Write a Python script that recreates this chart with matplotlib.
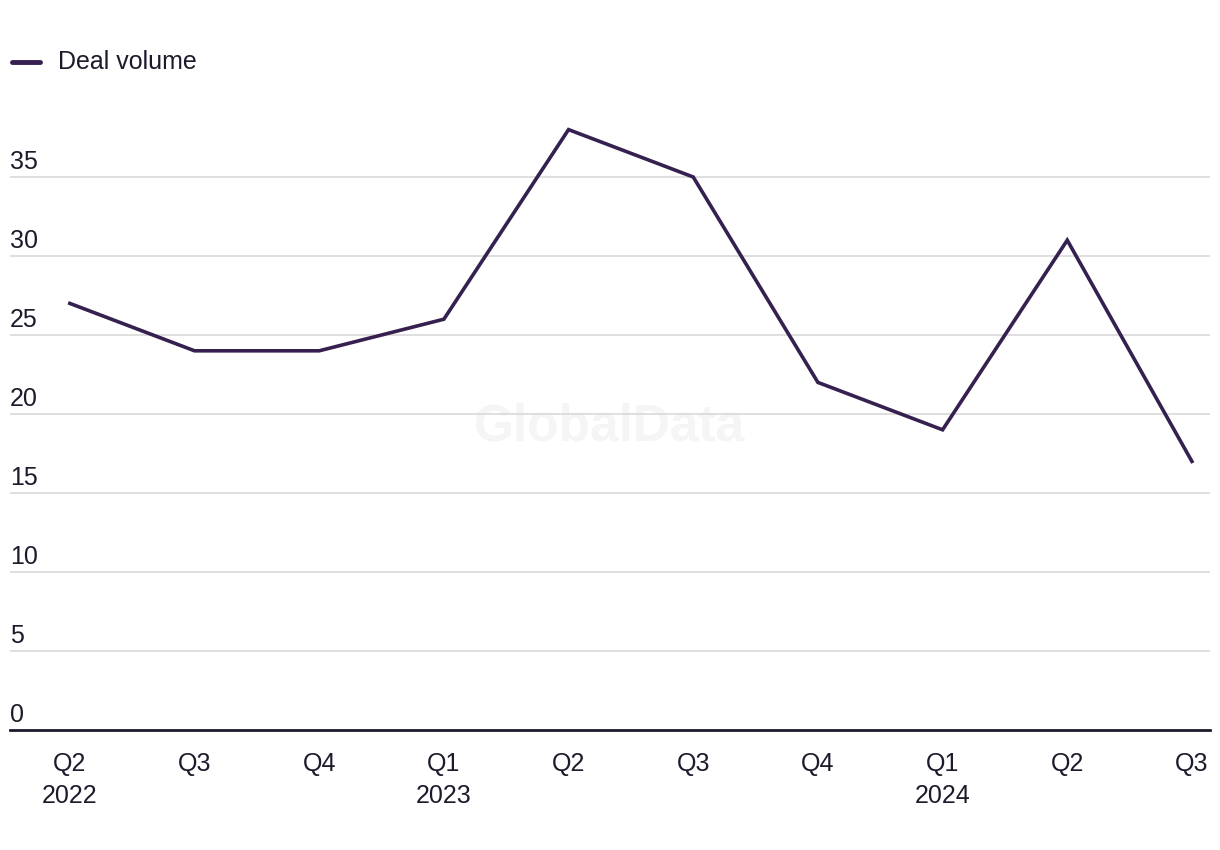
import matplotlib
matplotlib.use("Agg")
import matplotlib.pyplot as plt
import matplotlib.transforms as mtransforms

plt.rcParams['font.family'] = ['Liberation Sans', 'DejaVu Sans']

quarters = ["Q2\n2022", "Q3", "Q4", "Q1\n2023", "Q2", "Q3", "Q4", "Q1\n2024", "Q2", "Q3"]
deal_volume = [27, 24, 24, 26, 38, 35, 22, 19, 31, 17]
y_ticks = [0, 5, 10, 15, 20, 25, 30, 35]

line_color = '#35204f'
text_color = '#1b1b2b'

fig = plt.figure(figsize=(12.2, 8.5), dpi=100)
ax = fig.add_axes([10 / 1220, 1 - 730 / 850, 1200 / 1220, 632 / 850])

x = list(range(len(quarters)))
ax.plot(x, deal_volume, color=line_color, linewidth=2.6, solid_joinstyle='miter', zorder=3)

ax.set_xlim(-0.48, 9.145)
ax.set_ylim(0, 40)

# gridlines with labels sitting just above them
trans = mtransforms.blended_transform_factory(ax.transAxes, ax.transData)
for t in y_ticks:
    if t > 0:
        ax.axhline(t, color='#d9d9d9', linewidth=1.2, zorder=1)
    ax.annotate(str(t), xy=(0, t), xycoords=trans, xytext=(0, 2),
                textcoords='offset points', ha='left', va='bottom',
                fontsize=18, color=text_color)

ax.set_yticks([])
ax.set_xticks(x)
ax.set_xticklabels(quarters, fontsize=18, color=text_color, linespacing=1.4)
ax.tick_params(axis='x', length=0, pad=16)

for s in ['top', 'right', 'left']:
    ax.spines[s].set_visible(False)
ax.spines['bottom'].set_color(text_color)
ax.spines['bottom'].set_linewidth(2)

# watermark
ax.text(0.5, 0.48, "GlobalData", transform=ax.transAxes, ha='center', va='center',
        fontsize=37, fontweight='bold', color='#f5f5f5', zorder=0)

# legend
fig.add_artist(plt.Line2D([12 / 1220, 40 / 1220], [1 - 62 / 850] * 2,
                          color=line_color, linewidth=3.5, solid_capstyle='round'))
fig.text(58 / 1220, 1 - 62 / 850, "Deal volume", ha='left', va='center',
         fontsize=18, color=text_color)

plt.savefig('out.png', dpi=100)
plt.close()
